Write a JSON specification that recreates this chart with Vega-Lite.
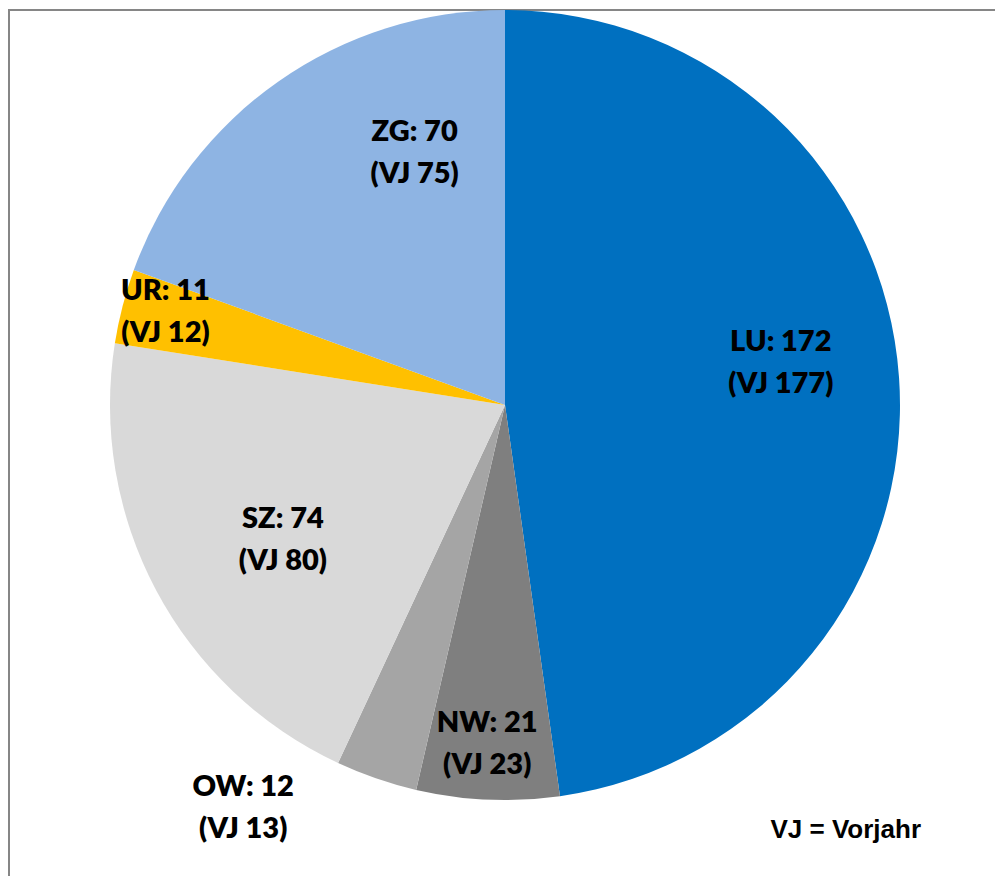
{
  "$schema": "https://vega.github.io/schema/vega-lite/v6.json",
  "width": 992,
  "height": 880,
  "autosize": "none",
  "padding": {"left": 9, "top": 10, "right": 0, "bottom": 0},
  "background": "white",
  "view": {"stroke": "#868686", "strokeWidth": 2},
  "config": {
    "view": {"stroke": "#868686", "strokeWidth": 2},
    "text": {"font": "Lato", "fontSize": 29, "fontWeight": 800, "lineHeight": 42, "lineBreak": "\n", "color": "#000000", "align": "center", "baseline": "middle"}
  },
  "title": {
    "text": "VJ = Vorjahr",
    "orient": "bottom",
    "anchor": "end",
    "dx": -80,
    "offset": -52,
    "font": "Liberation Sans",
    "fontSize": 26,
    "fontWeight": "bold",
    "color": "#000000",
    "baseline": "alphabetic"
  },
  "data": {
    "values": [
      {"i": 1, "k": "LU", "value": 172, "vj": 177, "label": "LU: 172\n(VJ 177)"},
      {"i": 2, "k": "NW", "value": 21, "vj": 23, "label": "NW: 21\n(VJ 23)"},
      {"i": 3, "k": "OW", "value": 12, "vj": 13, "label": "OW: 12\n(VJ 13)"},
      {"i": 4, "k": "SZ", "value": 74, "vj": 80, "label": "SZ: 74\n(VJ 80)"},
      {"i": 5, "k": "UR", "value": 11, "vj": 12, "label": "UR: 11\n(VJ 12)"},
      {"i": 6, "k": "ZG", "value": 70, "vj": 75, "label": "ZG: 70\n(VJ 75)"}
    ]
  },
  "encoding": {
    "theta": {"field": "value", "type": "quantitative", "stack": true},
    "order": {"field": "i", "type": "quantitative"}
  },
  "layer": [
    {
      "mark": {"type": "arc", "outerRadius": 395, "yOffset": -45},
      "encoding": {
        "color": {
          "field": "k",
          "type": "nominal",
          "scale": {"domain": ["LU", "NW", "OW", "SZ", "UR", "ZG"], "range": ["#0070C0", "#7F7F7F", "#A5A5A5", "#D9D9D9", "#FFC000", "#8EB4E3"]},
          "legend": null
        }
      }
    },
    {
      "mark": {"type": "text", "radius": 279, "thetaOffset": -0.082, "dy": -21, "yOffset": -45},
      "encoding": {"text": {"condition": {"test": "datum.k === 'LU'", "field": "label"}, "value": ""}}
    },
    {
      "mark": {"type": "text", "radius": 339, "thetaOffset": 0.009, "dy": -21, "yOffset": -45},
      "encoding": {"text": {"condition": {"test": "datum.k === 'NW'", "field": "label"}, "value": ""}}
    },
    {
      "mark": {"type": "text", "radius": 481, "thetaOffset": 0.244, "dy": -21, "yOffset": -45},
      "encoding": {"text": {"condition": {"test": "datum.k === 'OW'", "field": "label"}, "value": ""}}
    },
    {
      "mark": {"type": "text", "radius": 260, "thetaOffset": -0.058, "dy": -21, "yOffset": -45},
      "encoding": {"text": {"condition": {"test": "datum.k === 'SZ'", "field": "label"}, "value": ""}}
    },
    {
      "mark": {"type": "text", "radius": 352, "thetaOffset": 0.014, "dy": -21, "yOffset": -45},
      "encoding": {"text": {"condition": {"test": "datum.k === 'UR'", "field": "label"}, "value": ""}}
    },
    {
      "mark": {"type": "text", "radius": 268, "thetaOffset": 0.267, "dy": -21, "yOffset": -45},
      "encoding": {"text": {"condition": {"test": "datum.k === 'ZG'", "field": "label"}, "value": ""}}
    }
  ]
}
